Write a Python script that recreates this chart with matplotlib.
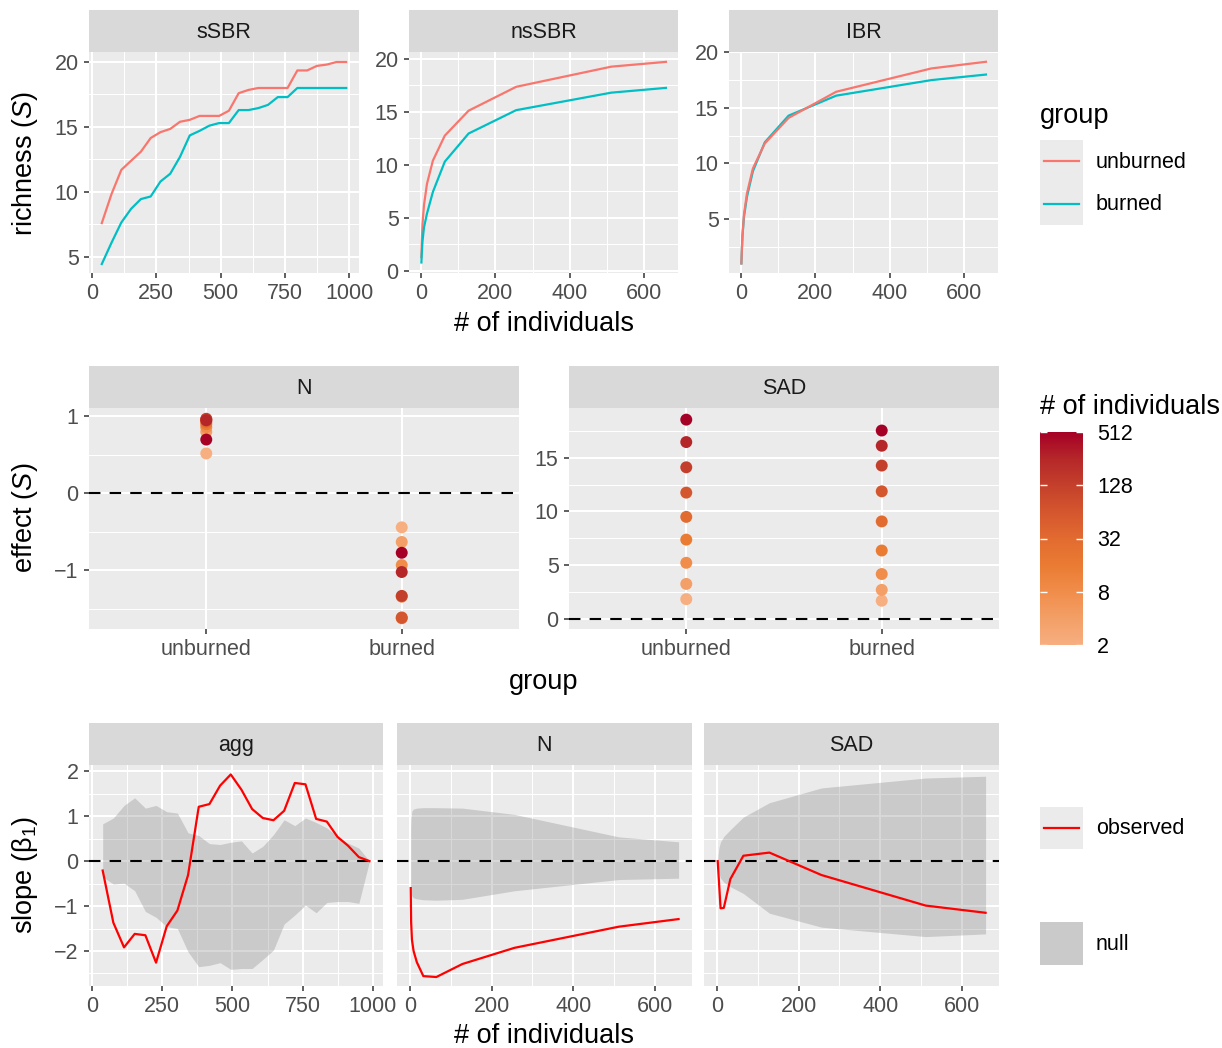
import matplotlib
matplotlib.use('Agg')
import matplotlib.pyplot as plt
from matplotlib.colors import LinearSegmentedColormap, LogNorm
from matplotlib.ticker import MultipleLocator, NullLocator
from matplotlib.patches import Rectangle

plt.rcParams['font.family'] = 'Liberation Sans'
plt.rcParams['mathtext.fontset'] = 'custom'
plt.rcParams['mathtext.rm'] = 'Liberation Sans'
plt.rcParams['mathtext.it'] = 'Liberation Sans:italic'

# ---- data ----
# sample effort of the spatial curve (sSBR) and of the agg slope
n_ssbr = [38, 76, 114, 152, 190, 228, 266, 304, 342, 380, 418, 456, 494,
          532, 570, 608, 646, 684, 722, 760, 798, 836, 874, 912, 950, 988]
ssbr_unburned = [7.6, 9.85, 11.7, 12.4, 13.1, 14.15, 14.6, 14.85, 15.4, 15.55, 15.85, 15.85, 15.85,
                 16.25, 17.6, 17.85, 18.0, 18.0, 18.0, 18.0, 19.35, 19.35, 19.7, 19.8, 20.0, 20.0]
ssbr_burned = [4.45, 6.1, 7.65, 8.7, 9.45, 9.65, 10.8, 11.4, 12.7, 14.35, 14.7, 15.1, 15.3,
               15.3, 16.3, 16.3, 16.45, 16.7, 17.3, 17.3, 18.0, 18.0, 18.0, 18.0, 18.0, 18.0]

# rarefaction effort (nsSBR, IBR, N and SAD slopes)
n_rare = [1, 2, 4, 8, 16, 32, 64, 128, 256, 512, 659]
nssbr_unburned = [1.3, 2.6, 4.4, 6.2, 8.2, 10.4, 12.75, 15.1, 17.35, 19.25, 19.7]
nssbr_burned = [0.8, 1.6, 2.8, 4.1, 5.4, 7.45, 10.3, 12.95, 15.15, 16.8, 17.25]
ibr_unburned = [1.0, 2.0, 3.6, 5.4, 7.3, 9.55, 11.8, 14.1, 16.45, 18.55, 19.15]
ibr_burned = [1.0, 2.0, 3.5, 5.2, 7.0, 9.3, 11.9, 14.3, 16.1, 17.5, 18.0]

# effects
groups = ['unburned', 'burned']
n_ind = [2, 4, 8, 16, 32, 64, 128, 256, 512]
effN_unburned = [0.52, 0.80, 0.86, 0.90, 0.93, 0.96, 0.97, 0.95, 0.70]
effN_burned = [-0.44, -0.63, -0.93, -1.34, -1.62, -1.61, -1.33, -1.02, -0.77]
effSAD_unburned = [1.87, 3.28, 5.24, 7.39, 9.5, 11.75, 14.1, 16.44, 18.52]
effSAD_burned = [1.72, 2.73, 4.2, 6.38, 9.08, 11.87, 14.26, 16.1, 17.51]

# slopes: observed and null band
agg_obs = [-0.21, -1.37, -1.92, -1.62, -1.65, -2.26, -1.45, -1.10, -0.31, 1.21, 1.27, 1.68, 1.93,
           1.59, 1.16, 0.96, 0.91, 1.12, 1.74, 1.71, 0.94, 0.88, 0.54, 0.34, 0.09, 0.0]
agg_lo = [-0.35, -0.51, -0.49, -0.66, -1.12, -1.25, -1.46, -1.50, -2.02, -2.35, -2.32, -2.26, -2.41,
          -2.39, -2.39, -2.19, -1.98, -1.40, -1.20, -0.98, -1.15, -0.92, -0.90, -0.90, -0.94, 0.0]
agg_hi = [0.83, 0.96, 1.24, 1.41, 1.18, 1.24, 1.10, 1.07, 0.63, 0.57, 0.39, 0.37, 0.42,
          0.45, 0.18, 0.33, 0.59, 0.92, 0.79, 0.96, 0.86, 0.74, 0.55, 0.40, 0.29, 0.0]
nslope_obs = [-0.60, -1.35, -1.75, -2.0, -2.25, -2.56, -2.58, -2.29, -1.93, -1.46, -1.29]
nslope_lo = [-0.55, -0.70, -0.78, -0.82, -0.84, -0.86, -0.87, -0.85, -0.66, -0.41, -0.38]
nslope_hi = [0.75, 1.0, 1.12, 1.16, 1.18, 1.19, 1.19, 1.18, 1.04, 0.54, 0.43]
sadslope_obs = [0.0, -0.15, -0.45, -1.05, -1.04, -0.40, 0.12, 0.19, -0.31, -0.99, -1.15]
sadslope_lo = [0.0, -0.15, -0.28, -0.38, -0.47, -0.57, -0.72, -1.16, -1.47, -1.68, -1.62]
sadslope_hi = [0.0, 0.15, 0.30, 0.43, 0.55, 0.70, 0.98, 1.30, 1.63, 1.85, 1.89]

# ---- style ----
W, H = 1222, 1048
PANEL = '#EBEBEB'
STRIP = '#D9D9D9'
RED_G = '#F8766D'
TEAL = '#00BFC4'
OBS = '#FF0000'
TXT = 15.5
TITLE = 19.5
ind_colors = ['#F7AE80', '#F39F67', '#F08D4A', '#EA7B33', '#E26B30',
              '#D4562E', '#C4402B', '#B52729', '#A50026']
cmap = LinearSegmentedColormap.from_list('ind', ind_colors)
norm = LogNorm(vmin=2, vmax=512)

fig = plt.figure(figsize=(W / 100, H / 100), dpi=100)


def px_box(x0, y0, x1, y1):
    return [x0 / W, 1 - y1 / H, (x1 - x0) / W, (y1 - y0) / H]


def make_panel(x0, y0, x1, y1, strip_top, title):
    ax = fig.add_axes(px_box(x0, y0, x1, y1))
    ax.set_facecolor(PANEL)
    for s in ax.spines.values():
        s.set_visible(False)
    ax.set_axisbelow(True)
    ax.grid(which='major', color='white', lw=1.5)
    ax.grid(which='minor', color='white', lw=0.75)
    ax.tick_params(which='major', length=3.5, width=1.1, color='#333333',
                   labelcolor='#4D4D4D', labelsize=TXT, pad=4)
    ax.tick_params(which='minor', length=0)
    st = fig.add_axes(px_box(x0, strip_top, x1, y0))
    st.set_facecolor(STRIP)
    st.set_xticks([])
    st.set_yticks([])
    for s in st.spines.values():
        s.set_visible(False)
    st.text(0.5, 0.47, title, ha='center', va='center', fontsize=TXT,
            color='#1A1A1A', transform=st.transAxes)
    return ax


def zero_line(ax):
    ax.axhline(0, color='black', lw=1.5, ls=(0, (5.5, 4.4)), zorder=2)


# ---- row 1: richness curves ----
ax = make_panel(89, 52, 359, 273, 10, 'sSBR')
ax.plot(n_ssbr, ssbr_unburned, color=RED_G, lw=1.6)
ax.plot(n_ssbr, ssbr_burned, color=TEAL, lw=1.6)
ax.set_xlim(-11.7, 1037.6)
ax.set_ylim(3.76, 20.77)
ax.xaxis.set_major_locator(MultipleLocator(250))
ax.xaxis.set_minor_locator(MultipleLocator(125))
ax.yaxis.set_major_locator(MultipleLocator(5))
ax.yaxis.set_minor_locator(MultipleLocator(2.5))

ax = make_panel(409, 52, 678, 273, 10, 'nsSBR')
ax.plot(n_rare, nssbr_unburned, color=RED_G, lw=1.6)
ax.plot(n_rare, nssbr_burned, color=TEAL, lw=1.6)
ax.set_xlim(-32.3, 691.4)
ax.set_ylim(-0.19, 20.63)
ax.xaxis.set_major_locator(MultipleLocator(200))
ax.xaxis.set_minor_locator(MultipleLocator(100))
ax.yaxis.set_major_locator(MultipleLocator(5))
ax.yaxis.set_minor_locator(MultipleLocator(2.5))

ax = make_panel(729, 52, 998, 273, 10, 'IBR')
ax.plot(n_rare, ibr_burned, color=TEAL, lw=1.6)
ax.plot(n_rare, ibr_unburned, color=RED_G, lw=1.6)
ax.set_xlim(-32.3, 691.4)
ax.set_ylim(0.14, 20.03)
ax.xaxis.set_major_locator(MultipleLocator(200))
ax.xaxis.set_minor_locator(MultipleLocator(100))
ax.set_yticks([5, 10, 15, 20])
ax.yaxis.set_minor_locator(MultipleLocator(2.5))

# ---- row 2: effects ----
xpos = [1, 2]
ax = make_panel(89, 408, 519, 629, 366, 'N')
zero_line(ax)
ax.scatter([xpos[0]] * len(n_ind), effN_unburned, c=n_ind, cmap=cmap, norm=norm, s=74, zorder=3, linewidths=0)
ax.scatter([xpos[1]] * len(n_ind), effN_burned, c=n_ind, cmap=cmap, norm=norm, s=74, zorder=3, linewidths=0)
ax.set_xlim(0.4, 2.6)
ax.set_ylim(-1.76, 1.11)
ax.set_xticks(xpos)
ax.set_xticklabels(groups)
ax.yaxis.set_major_locator(MultipleLocator(1))
ax.yaxis.set_minor_locator(MultipleLocator(0.5))

ax = make_panel(569, 408, 999, 629, 366, 'SAD')
zero_line(ax)
ax.scatter([xpos[0]] * len(n_ind), effSAD_unburned, c=n_ind, cmap=cmap, norm=norm, s=74, zorder=3, linewidths=0)
ax.scatter([xpos[1]] * len(n_ind), effSAD_burned, c=n_ind, cmap=cmap, norm=norm, s=74, zorder=3, linewidths=0)
ax.set_xlim(0.4, 2.6)
ax.set_ylim(-0.9, 19.6)
ax.set_xticks(xpos)
ax.set_xticklabels(groups)
ax.yaxis.set_major_locator(MultipleLocator(5))
ax.yaxis.set_minor_locator(MultipleLocator(2.5))

# ---- row 3: slopes ----
NULL_FILL = '#7F7F7F'
ax = make_panel(89, 765, 383, 986, 723, 'agg')
ax.fill_between(n_ssbr, agg_lo, agg_hi, color=NULL_FILL, alpha=0.3, lw=0, zorder=1)
zero_line(ax)
ax.plot(n_ssbr, agg_obs, color=OBS, lw=1.6, zorder=3)
ax.set_xlim(-10.7, 1036)
ax.xaxis.set_major_locator(MultipleLocator(250))
ax.xaxis.set_minor_locator(MultipleLocator(125))
ylim3 = (-2.78, 2.14)
ax.set_ylim(*ylim3)
ax.yaxis.set_major_locator(MultipleLocator(1))
ax.yaxis.set_minor_locator(MultipleLocator(0.5))

for (x0, x1, title, lo, hi, obs) in [(397, 692, 'N', nslope_lo, nslope_hi, nslope_obs),
                                     (704, 999, 'SAD', sadslope_lo, sadslope_hi, sadslope_obs)]:
    ax = make_panel(x0, 765, x1, 986, 723, title)
    ax.fill_between(n_rare, lo, hi, color=NULL_FILL, alpha=0.3, lw=0, zorder=1)
    zero_line(ax)
    ax.plot(n_rare, obs, color=OBS, lw=1.6, zorder=3)
    ax.set_xlim(-32.7, 692)
    ax.set_ylim(*ylim3)
    ax.xaxis.set_major_locator(MultipleLocator(200))
    ax.xaxis.set_minor_locator(MultipleLocator(100))
    ax.yaxis.set_major_locator(MultipleLocator(1))
    ax.yaxis.set_minor_locator(MultipleLocator(0.5))
    ax.tick_params(axis='y', left=False, labelleft=False)

# ---- axis titles ----
def ftext(x, y, s, **kw):
    fig.text(x / W, 1 - y / H, s, **kw)

ftext(544, 324, '# of individuals', ha='center', va='center', fontsize=TITLE)
ftext(544, 682, 'group', ha='center', va='center', fontsize=TITLE)
ftext(544, 1036, '# of individuals', ha='center', va='center', fontsize=TITLE)
ftext(25, 163, r'richness ($\mathit{S}$)', ha='center', va='center', rotation=90, fontsize=TITLE)
ftext(25, 518, r'effect ($\mathit{S}$)', ha='center', va='center', rotation=90, fontsize=TITLE)
ftext(25, 875, r'slope (β$_1$)', ha='center', va='center', rotation=90, fontsize=TITLE)

# ---- legends ----
lg = fig.add_axes([0, 0, 1, 1])
lg.set_xlim(0, W)
lg.set_ylim(H, 0)
lg.axis('off')

lg.text(1040, 116, 'group', ha='left', va='center', fontsize=TITLE)
lg.add_patch(Rectangle((1040, 140), 43, 85, color=PANEL, lw=0))
for yk, col, lab in [(161, RED_G, 'unburned'), (204, TEAL, 'burned')]:
    lg.plot([1044, 1079], [yk, yk], color=col, lw=1.6)
    lg.text(1096, yk + 1, lab, ha='left', va='center', fontsize=TXT)

lg.text(1040, 407, '# of individuals', ha='left', va='center', fontsize=TITLE)

lg.add_patch(Rectangle((1040, 807), 43, 42, color=PANEL, lw=0))
lg.plot([1044, 1079], [828, 828], color=OBS, lw=1.6)
lg.text(1096, 829, 'observed', ha='left', va='center', fontsize=TXT)
lg.add_patch(Rectangle((1040, 922), 43, 43, color=PANEL, lw=0))
lg.add_patch(Rectangle((1040, 922), 43, 43, color=NULL_FILL, alpha=0.3, lw=0))
lg.text(1096, 945, 'null', ha='left', va='center', fontsize=TXT)

cax = fig.add_axes(px_box(1040, 432, 1083, 645))
cb = fig.colorbar(plt.cm.ScalarMappable(norm=norm, cmap=cmap), cax=cax)
cb.outline.set_visible(False)
cb.set_ticks([2, 8, 32, 128, 512])
cb.set_ticklabels(['2', '8', '32', '128', '512'])
cax.yaxis.set_minor_locator(NullLocator())
cax.tick_params(which='major', direction='in', length=5, width=1, color='white',
                labelsize=TXT, labelcolor='black', pad=10, left=True, right=True)

fig.savefig('out.png', dpi=100)
